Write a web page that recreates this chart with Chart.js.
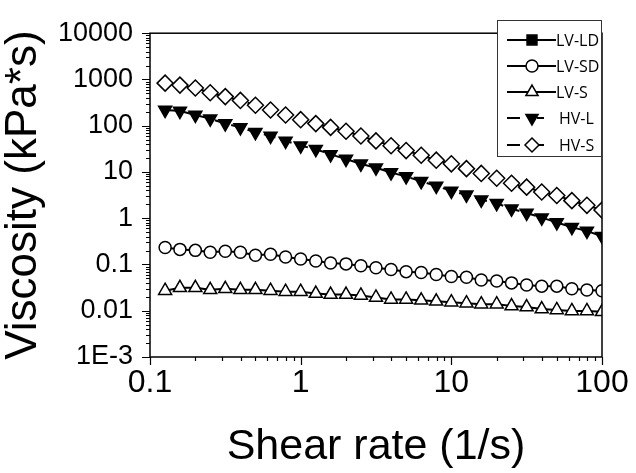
<!DOCTYPE html>
<html>
<head>
<meta charset="utf-8">
<script src="https://cdn.jsdelivr.net/npm/chart.js@4/dist/chart.umd.min.js"></script>
<style>
  html, body { margin: 0; padding: 0; background: #fff; }
  #wrap { width: 636px; height: 473px; }
</style>
</head>
<body>
<div id="wrap"><canvas id="c" width="636" height="473"></canvas></div>
<script>
// ---- data ----
const shearRate = [0.126, 0.158, 0.2, 0.251, 0.316, 0.398, 0.501, 0.631, 0.794, 1,
                   1.26, 1.58, 2, 2.51, 3.16, 3.98, 5.01, 6.31, 7.94, 10,
                   12.6, 15.8, 20, 25.1, 31.6, 39.8, 50.1, 63.1, 79.4, 100];
const seriesNames = ['LV-LD', 'LV-SD', 'LV-S', 'HV-L', 'HV-S'];
const lvLD = [];   // listed in the legend, no visible points
const lvSD = [0.233, 0.212, 0.202, 0.184, 0.193, 0.184, 0.159, 0.167, 0.145, 0.131,
              0.119, 0.108, 0.103, 0.094, 0.085, 0.078, 0.070, 0.067, 0.061, 0.055,
              0.053, 0.046, 0.044, 0.040, 0.036, 0.034, 0.034, 0.030, 0.028, 0.027];
const lvS = [0.0271, 0.0313, 0.0313, 0.0284, 0.0298, 0.0284, 0.0284, 0.0271, 0.0258, 0.0258,
             0.0235, 0.0224, 0.0224, 0.0214, 0.0194, 0.0176, 0.0176, 0.0168, 0.0160, 0.0153,
             0.0146, 0.0139, 0.0139, 0.0126, 0.0120, 0.0109, 0.0104, 0.0099, 0.0099, 0.0095];
const hvL = [218, 208, 171, 142, 111, 92, 72, 60, 47, 37,
             31, 24, 19, 15, 12.4, 9.7, 8.0, 6.3, 5.0, 3.9,
             3.2, 2.5, 2.1, 1.6, 1.3, 1.03, 0.81, 0.64, 0.53, 0.41];
const hvS = [832, 755, 655, 515, 426, 352, 277, 218, 171, 135,
             111, 92, 76, 60, 47, 37, 29, 23, 18, 15,
             11.8, 9.3, 7.3, 5.7, 4.7, 3.7, 3.1, 2.4, 1.9, 1.5];
const xTickValues = [0.1, 1, 10, 100];
const xTickLabels = ['0.1', '1', '10', '100'];
const yTickValues = [0.001, 0.01, 0.1, 1, 10, 100, 1000, 10000];
const yTickLabels = ['1E-3', '0.01', '0.1', '1', '10', '100', '1000', '10000'];

const toXY = arr => arr.map((v, i) => ({x: shearRate[i], y: v}));

// ---- styles ----
const FONT = "'Liberation Sans', Arial, sans-serif";
const styles = [
  {pointStyle: 'rect',     fill: '#000', radius: 7,   rotation: 0,   dash: []},
  {pointStyle: 'circle',   fill: '#fff', radius: 6,   rotation: 0,   dash: []},
  {pointStyle: 'triangle', fill: '#fff', radius: 7.5, rotation: 0,   dash: []},
  {pointStyle: 'triangle', fill: '#000', radius: 7.5, rotation: 180, dash: [12, 5]},
  {pointStyle: 'rectRot',  fill: '#fff', radius: 8,   rotation: 0,   dash: [12, 5]}
];
const seriesData = [lvLD, lvSD, lvS, hvL, hvS];

const datasets = seriesData.map((arr, i) => ({
  label: seriesNames[i],
  data: toXY(arr),
  borderColor: '#000',
  borderWidth: 2,
  borderDash: styles[i].dash,
  backgroundColor: styles[i].fill,
  pointStyle: styles[i].pointStyle,
  pointRadius: styles[i].radius,
  pointRotation: styles[i].rotation,
  pointBackgroundColor: styles[i].fill,
  pointBorderColor: '#000',
  pointBorderWidth: 1.5,
  tension: 0,
  fill: false
}));

function drawMarker(ctx, st, x, y) {
  const r = st.radius;
  ctx.save();
  ctx.beginPath();
  ctx.setLineDash([]);
  if (st.pointStyle === 'circle') {
    ctx.arc(x, y, r, 0, Math.PI * 2);
  } else if (st.pointStyle === 'rect') {
    const s = r * Math.SQRT1_2;
    ctx.rect(x - s, y - s, 2 * s, 2 * s);
  } else if (st.pointStyle === 'rectRot') {
    ctx.moveTo(x, y - r); ctx.lineTo(x + r, y); ctx.lineTo(x, y + r); ctx.lineTo(x - r, y); ctx.closePath();
  } else if (st.pointStyle === 'triangle') {
    let a = st.rotation * Math.PI / 180;
    for (let k = 0; k < 3; k++) {
      const px = x + Math.sin(a) * r, py = y - Math.cos(a) * r;
      if (k === 0) ctx.moveTo(px, py); else ctx.lineTo(px, py);
      a += 2 * Math.PI / 3;
    }
    ctx.closePath();
  }
  ctx.fillStyle = st.fill;
  ctx.fill();
  ctx.lineWidth = 1.5;
  ctx.strokeStyle = '#000';
  ctx.stroke();
  ctx.restore();
}

const decorPlugin = {
  id: 'decor',
  beforeDraw(chart) {
    const ctx = chart.ctx;
    ctx.save();
    ctx.fillStyle = '#fff';
    ctx.fillRect(0, 0, chart.width, chart.height);
    ctx.restore();
  },
  afterDraw(chart) {
    const {ctx, chartArea: a, scales: {x, y}} = chart;
    ctx.save();
    ctx.strokeStyle = '#000';
    ctx.lineWidth = 1.5;
    ctx.strokeRect(a.left, a.top, a.right - a.left, a.bottom - a.top);
    // minor + major ticks
    ctx.lineWidth = 1.2;
    ctx.beginPath();
    for (let e = -1; e <= 2; e++) {
      for (let m = 1; m <= 9; m++) {
        const v = m * Math.pow(10, e);
        if (v > 100.0001) continue;
        const p = Math.round(x.getPixelForValue(v)) + 0.5;
        ctx.moveTo(p, a.bottom);
        ctx.lineTo(p, a.bottom + (m === 1 ? 8 : 4));
      }
    }
    for (let e = -3; e <= 4; e++) {
      for (let m = 1; m <= 9; m++) {
        const v = m * Math.pow(10, e);
        if (v > 10000.001) continue;
        const p = Math.round(y.getPixelForValue(v)) + 0.5;
        ctx.moveTo(a.left, p);
        ctx.lineTo(a.left - (m === 1 ? 8 : 4), p);
      }
    }
    ctx.stroke();

    // legend
    const lx = 497, ly = 20, lw = a.right - 497, lh = 136;
    ctx.fillStyle = '#fff';
    ctx.fillRect(lx, ly, lw, lh);
    ctx.strokeStyle = '#333';
    ctx.lineWidth = 1;
    ctx.strokeRect(lx + 0.5, ly + 0.5, lw - 1, lh);
    const rows = [40, 66, 92, 118, 145];
    ctx.font = "16px 'Open Sans', 'Noto Sans', sans-serif";
    ctx.textBaseline = 'middle';
    ctx.textAlign = 'left';
    chart.data.datasets.forEach((ds, i) => {
      const yy = rows[i];
      const st = styles[i];
      ctx.strokeStyle = '#000';
      ctx.lineWidth = 2;
      ctx.beginPath();
      if (st.dash.length) {
        ctx.moveTo(507, yy); ctx.lineTo(520, yy);
        ctx.moveTo(537, yy); ctx.lineTo(544, yy);
      } else {
        ctx.moveTo(507, yy); ctx.lineTo(556, yy);
      }
      ctx.stroke();
      drawMarker(ctx, Object.assign({}, st, {radius: Math.min(st.radius, 7)}), 532, yy);
      ctx.fillStyle = '#000';
      ctx.fillText(ds.label, st.dash.length ? 559 : 556, yy + 1);
    });
    ctx.restore();
  }
};

new Chart(document.getElementById('c'), {
  type: 'line',
  data: {datasets},
  options: {
    responsive: false,
    animation: false,
    devicePixelRatio: 1,
    layout: {padding: {top: 20, right: 34, left: 0, bottom: 0}},
    plugins: {legend: {display: false}, tooltip: {enabled: false}},
    elements: {line: {borderJoinStyle: 'round'}},
    scales: {
      x: {
        type: 'logarithmic',
        min: 0.1, max: 100,
        afterFit: s => { s.height = 116; },
        afterBuildTicks: s => { s.ticks = xTickValues.map(v => ({value: v, major: true})); },
        grid: {display: false, drawTicks: false},
        border: {display: false},
        ticks: {
          autoSkip: false, maxRotation: 0, padding: 7, color: '#000',
          font: {family: FONT, size: 32},
          callback: v => { const i = xTickValues.findIndex(t => Math.abs(t - v) < t * 1e-6); return i >= 0 ? xTickLabels[i] : ''; }
        },
        title: {
          display: true, text: 'Shear rate (1/s)', color: '#000',
          font: {family: FONT, size: 43, lineHeight: 1},
          padding: {top: 0, bottom: 4}
        }
      },
      y: {
        type: 'logarithmic',
        min: 0.001, max: 10000,
        afterFit: s => { s.width = 150; },
        afterBuildTicks: s => { s.ticks = yTickValues.map(v => ({value: v, major: true})); },
        grid: {display: false, drawTicks: false},
        border: {display: false},
        ticks: {
          autoSkip: false, padding: 17, color: '#000',
          font: {family: FONT, size: 27},
          callback: v => { const i = yTickValues.findIndex(t => Math.abs(t - v) < t * 1e-6); return i >= 0 ? yTickLabels[i] : ''; }
        },
        title: {
          display: true, text: 'Viscosity (kPa*s)', color: '#000',
          font: {family: FONT, size: 44, lineHeight: 1},
          padding: {top: 2, bottom: 0}
        }
      }
    }
  },
  plugins: [decorPlugin]
});
</script>
</body>
</html>
